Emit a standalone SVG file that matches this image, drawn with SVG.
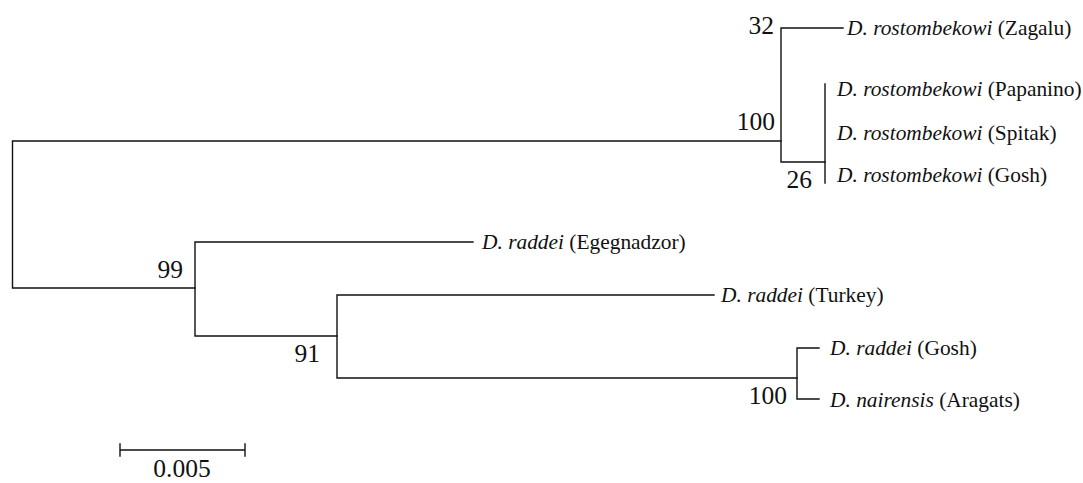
<svg xmlns="http://www.w3.org/2000/svg" width="1083" height="483" viewBox="0 0 1083 483">
<style>
.br{stroke:#111;stroke-width:1.4;fill:none;stroke-linecap:square}
.tx{font-family:"Liberation Serif","Times New Roman",serif;font-size:21.4px;fill:#111}
.bs{font-family:"Liberation Serif","Times New Roman",serif;font-size:25.5px;fill:#111;text-anchor:end}
.sp{font-style:italic}
</style>
<rect width="1083" height="483" fill="#fff"/>
<g id="connectors">
<path class="br" d="M781,141 H12.5 V288 H195"/>
<path class="br" d="M843,28 H781 V162 H825"/>
<path class="br" d="M825,84 V183"/>
<path class="br" d="M473,242 H195 V336 H337"/>
<path class="br" d="M714,295 H337 V378 H797"/>
<path class="br" d="M819,348 H797 V399 H819"/>
</g>
<g id="support">
<text class="bs" x="774" y="34">32</text>
<text class="bs" x="775" y="130">100</text>
<text class="bs" x="812" y="188">26</text>
<text class="bs" x="183" y="278">99</text>
<text class="bs" x="320" y="362">91</text>
<text class="bs" x="787" y="404">100</text>
</g>
<g id="taxon-zagalu"><text class="tx" x="847" y="35"><tspan class="sp">D. rostombekowi</tspan> (Zagalu)</text></g>
<g id="taxon-papanino"><text class="tx" x="837" y="96"><tspan class="sp">D. rostombekowi</tspan> (Papanino)</text></g>
<g id="taxon-spitak"><text class="tx" x="837" y="140"><tspan class="sp">D. rostombekowi</tspan> (Spitak)</text></g>
<g id="taxon-rost-gosh"><text class="tx" x="837" y="182"><tspan class="sp">D. rostombekowi</tspan> (Gosh)</text></g>
<g id="taxon-egegnadzor"><text class="tx" x="482" y="249"><tspan class="sp">D. raddei</tspan> (Egegnadzor)</text></g>
<g id="taxon-turkey"><text class="tx" x="721" y="302"><tspan class="sp">D. raddei</tspan> (Turkey)</text></g>
<g id="taxon-raddei-gosh"><text class="tx" x="830" y="355"><tspan class="sp">D. raddei</tspan> (Gosh)</text></g>
<g id="taxon-aragats"><text class="tx" x="830" y="407"><tspan class="sp">D. nairensis</tspan> (Aragats)</text></g>
<g id="scale">
<path class="br" d="M120,450 H245 M120,444 V456 M245,444 V456"/>
<text class="bs" x="182" y="477" style="text-anchor:middle">0.005</text>
</g>
</svg>
